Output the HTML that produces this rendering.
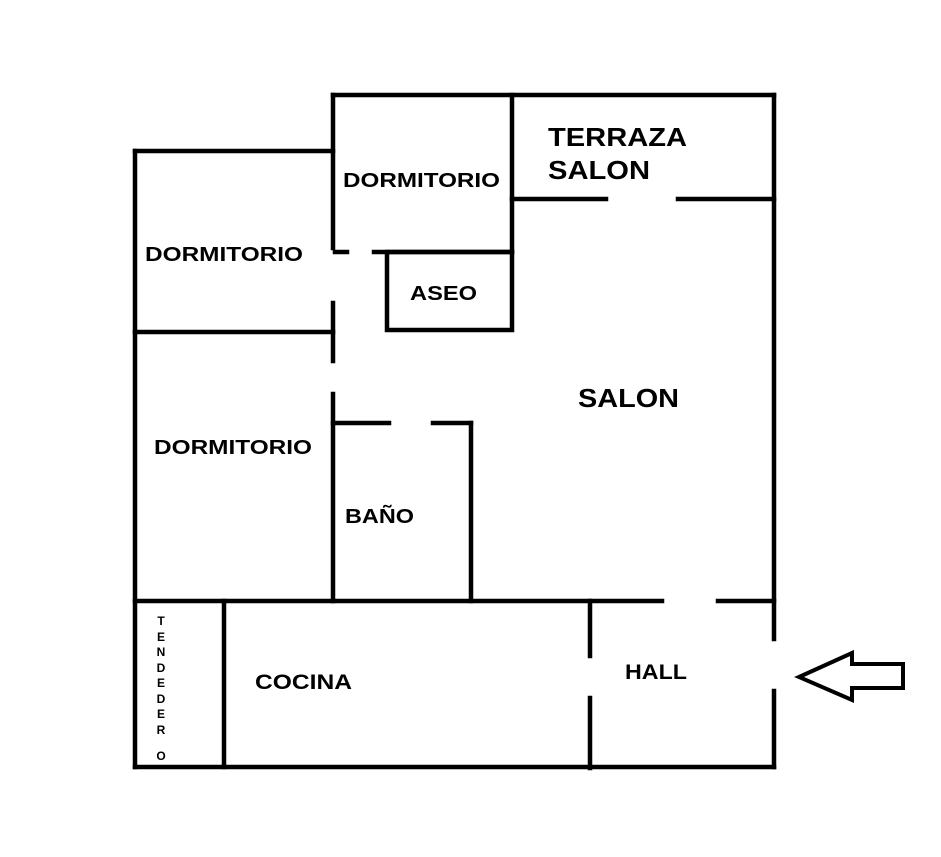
<!DOCTYPE html>
<html><head><meta charset="utf-8"><style>
html,body{margin:0;padding:0;background:#fff;}
svg{display:block;}
text{font-family:"Liberation Sans",Arial,sans-serif;font-weight:bold;fill:#000;}
</style></head><body>
<svg width="941" height="857" viewBox="0 0 941 857" xmlns="http://www.w3.org/2000/svg">
<g stroke="#000" stroke-width="4.5" fill="none" stroke-linecap="square">
<line x1="333" y1="95" x2="774" y2="95"/>
<line x1="135" y1="151" x2="333" y2="151"/>
<line x1="135" y1="151" x2="135" y2="767"/>
<line x1="135" y1="767" x2="774" y2="767"/>
<line x1="774" y1="95" x2="774" y2="639"/>
<line x1="774" y1="691" x2="774" y2="767"/>
<line x1="333" y1="95" x2="333" y2="248"/>
<line x1="333" y1="303" x2="333" y2="361"/>
<line x1="333" y1="394" x2="333" y2="601"/>
<line x1="335" y1="252" x2="347" y2="252"/>
<line x1="374" y1="252" x2="512" y2="252"/>
<line x1="512" y1="95" x2="512" y2="252"/>
<rect x="387" y="252" width="125" height="78"/>
<line x1="135" y1="332" x2="333" y2="332"/>
<line x1="512" y1="199" x2="606" y2="199"/>
<line x1="678" y1="199" x2="774" y2="199"/>
<line x1="333" y1="423" x2="389" y2="423"/>
<line x1="433" y1="423" x2="471" y2="423"/>
<line x1="471" y1="423" x2="471" y2="601"/>
<line x1="135" y1="601" x2="662" y2="601"/>
<line x1="718" y1="601" x2="774" y2="601"/>
<line x1="224" y1="601" x2="224" y2="767"/>
<line x1="590" y1="601" x2="590" y2="656"/>
<line x1="590" y1="698" x2="590" y2="768"/>
</g>
<polygon points="799,677 852,653 852,664 903,664 903,688 852,688 852,700" fill="#fff" stroke="#000" stroke-width="4" stroke-linejoin="miter"/>
<text x="548" y="146" font-size="26" textLength="139" lengthAdjust="spacingAndGlyphs">TERRAZA</text>
<text x="548" y="179" font-size="26" textLength="102" lengthAdjust="spacingAndGlyphs">SALON</text>
<text x="343" y="187" font-size="20.5" textLength="157" lengthAdjust="spacingAndGlyphs">DORMITORIO</text>
<text x="145" y="261" font-size="20.5" textLength="158" lengthAdjust="spacingAndGlyphs">DORMITORIO</text>
<text x="410" y="300" font-size="20.5" textLength="67" lengthAdjust="spacingAndGlyphs">ASEO</text>
<text x="578" y="407" font-size="26" textLength="101" lengthAdjust="spacingAndGlyphs">SALON</text>
<text x="154" y="454" font-size="20.5" textLength="158" lengthAdjust="spacingAndGlyphs">DORMITORIO</text>
<text x="345" y="523" font-size="20.5" textLength="69" lengthAdjust="spacingAndGlyphs">BAÑO</text>
<text x="255" y="689" font-size="21" textLength="97" lengthAdjust="spacingAndGlyphs">COCINA</text>
<text x="625" y="679" font-size="21" textLength="62" lengthAdjust="spacingAndGlyphs">HALL</text>
<g font-size="12" text-anchor="middle">
<text x="161" y="625">T</text>
<text x="161" y="641">E</text>
<text x="161" y="656">N</text>
<text x="161" y="672">D</text>
<text x="161" y="687">E</text>
<text x="161" y="703">D</text>
<text x="161" y="718">E</text>
<text x="161" y="734">R</text>
<text x="161" y="760">O</text>
</g>
</svg>
</body></html>
